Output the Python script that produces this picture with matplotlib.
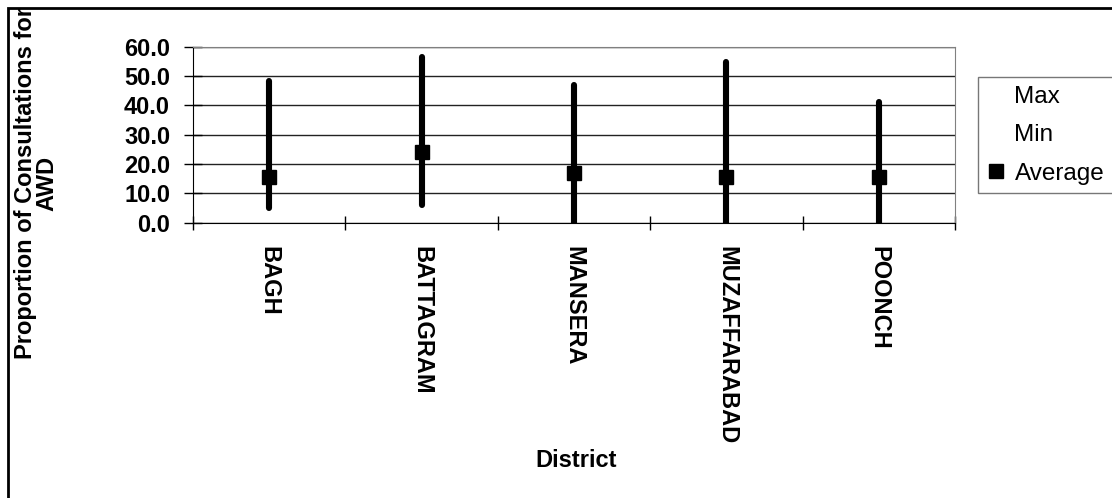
import matplotlib
matplotlib.use("Agg")
import matplotlib.pyplot as plt
from matplotlib.patches import Rectangle

plt.rcParams['font.family'] = ['Liberation Sans', 'DejaVu Sans']

# Datos del gráfico
districts = ['BAGH', 'BATTAGRAM', 'MANSERA', 'MUZAFFARABAD', 'POONCH']
max_vals = [48.2, 56.5, 46.8, 54.8, 41.1]
min_vals = [4.9, 6.1, 0.0, 0.0, 0.0]
avg_vals = [15.5, 24.0, 16.9, 15.5, 15.5]
y_ticks = [0, 10, 20, 30, 40, 50, 60]

fig = plt.figure(figsize=(11.12, 4.98), dpi=100)
ax = fig.add_axes([193 / 1112, 1 - 222.7 / 498, (955 - 193) / 1112, (222.7 - 46.7) / 498])

x = list(range(1, len(districts) + 1))

# lineas max-min
lc = ax.vlines(x, min_vals, max_vals, colors='black', linewidth=4.4, zorder=3)
lc.set_capstyle('round')

# series sin marcador (solo para la leyenda)
ax.plot(x, max_vals, linestyle='none', label='Max')
ax.plot(x, min_vals, linestyle='none', label='Min')
ax.plot(x, avg_vals, linestyle='none', marker='s', markersize=10.5,
        color='black', label='Average', zorder=4)

ax.set_xlim(0.5, len(districts) + 0.5)
ax.set_ylim(0, 60)
ax.set_yticks(y_ticks)
ax.set_yticklabels([f'{v:.1f}' for v in y_ticks], fontsize=17, fontweight='bold')
ax.yaxis.grid(True, color='#222222', linewidth=1)
ax.set_axisbelow(True)

# ticks de categoria en los limites
ax.set_xticks([i + 0.5 for i in range(len(districts) + 1)])
ax.set_xticklabels([])
ax.set_xticks(x, minor=True)
ax.set_xticklabels(districts, minor=True, rotation=270, fontsize=17,
                   fontweight='bold', va='top', ha='center')
ax.tick_params(axis='x', which='minor', length=0, pad=17)
ax.tick_params(axis='x', which='major', direction='inout', length=10, width=1)
ax.tick_params(axis='y', direction='inout', length=13, width=1, pad=10)

ax.spines['top'].set_color('#808080')
ax.spines['right'].set_color('#808080')
ax.spines['left'].set_color('black')
ax.spines['bottom'].set_color('black')

fig.text(576 / 1112, 1 - 460 / 498, 'District', fontsize=17, fontweight='bold',
         ha='center', va='center')
fig.text(36 / 1112, 1 - 183 / 498, 'Proportion of Consultations for\nAWD',
         fontsize=17, fontweight='bold', rotation=90, ha='center', va='center',
         multialignment='center', linespacing=0.9)

leg = fig.legend(loc='upper left', bbox_to_anchor=(978 / 1112, 1 - 77 / 498),
                 fontsize=17.5, frameon=True, fancybox=False, labelspacing=0.68,
                 handlelength=0.75, handletextpad=0.4, borderpad=0.35,
                 borderaxespad=0)
leg.get_frame().set_edgecolor('#555555')
leg.get_frame().set_linewidth(1)

# marco exterior
fig.add_artist(Rectangle((8 / 1112, -0.1), 1.2, 1 - 8 / 498 + 0.1, fill=False,
                         edgecolor='black', linewidth=2, transform=fig.transFigure))

fig.savefig('out.png', dpi=100)
